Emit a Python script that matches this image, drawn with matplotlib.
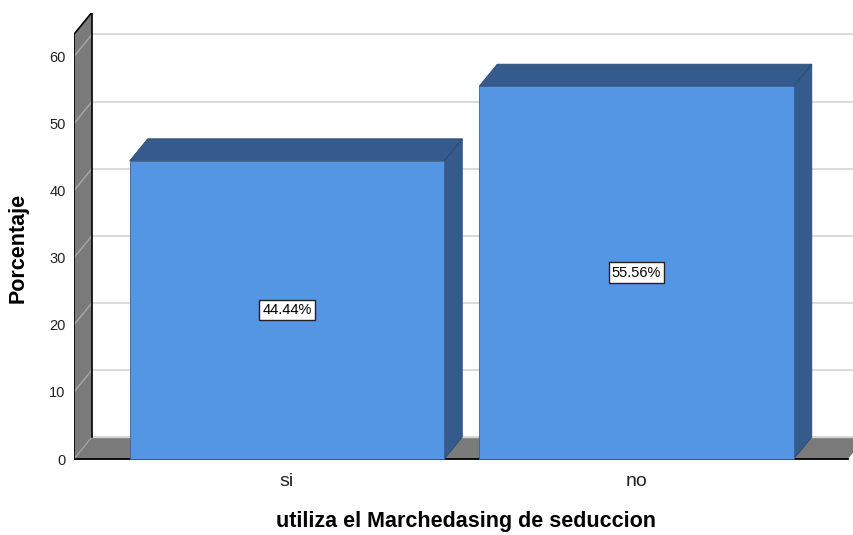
import numpy as np
from matplotlib import pyplot as plt
from matplotlib.patches import Polygon

# survey answers and percentages
categories = ['si', 'no']
percent = [44.44, 55.56]
bar_labels = ['44.44%', '55.56%']
yticks = [0, 10, 20, 30, 40, 50, 60]

plt.rcParams['font.family'] = ['Liberation Sans', 'DejaVu Sans']

front = '#5596e4'
dark = '#345b8c'
wall = '#7a7a7a'
grid = '#d4d4d4'

# pseudo 3d depth offsets (data units)
dx = 0.0515
dy = 3.28
w = 0.9
xl = -0.6094     # front left edge of the wall
xr = 1.605       # right end of the floor
wall_top = 63.3

fig = plt.figure(figsize=(8.54, 5.35), dpi=100)
px_bottom = 459 + 0.5 * 6.71
ax = fig.add_axes([74 / 854, (535 - px_bottom) / 535, 780 / 854, (px_bottom - 13) / 535])
ax.set_xlim(xl, (854 - 287) / 349.5)
ax.set_ylim(-0.5, 66.47)
for s in ax.spines.values():
    s.set_visible(False)

x_right = 2.0

# back wall gridlines
for v in yticks:
    ax.plot([xl + dx, x_right], [v + dy, v + dy], color=grid, lw=1.2, zorder=1)
ax.plot([xl + dx, x_right], [wall_top + dy, wall_top + dy], color='#333333', lw=1.2, zorder=1)

# floor
floor = Polygon([(xl, 0), (xr, 0), (xr + dx, dy), (xl + dx, dy)], closed=True,
                facecolor=wall, edgecolor='none', zorder=2)
ax.add_patch(floor)
ax.plot([xl, xr], [0, 0], color='black', lw=1.3, zorder=2.5)
ax.plot([xl + dx, xr + dx], [dy, dy], color=grid, lw=1.0, zorder=2.5)

# left wall
lwall = Polygon([(xl, 0), (xl + dx, dy), (xl + dx, wall_top + dy), (xl, wall_top)], closed=True,
                facecolor=wall, edgecolor='none', zorder=3)
ax.add_patch(lwall)
for v in yticks[1:]:
    ax.plot([xl, xl + dx], [v, v + dy], color='#a8a8a8', lw=1.0, zorder=3.2)
ax.plot([xl, xl, xl + dx, xl + dx, xl + dx], [0, wall_top, wall_top + dy, wall_top + dy, dy],
        color='black', lw=1.2, zorder=3.5)
ax.plot([xl, xl + dx], [0, dy], color='#a8a8a8', lw=0.8, zorder=3.2)

x = np.arange(len(categories))
bars = ax.bar(x, percent, width=w, color=front, edgecolor='#3a5f8f', lw=0.6, zorder=5)

for xi, h in zip(x, percent):
    r = xi + w / 2
    l = xi - w / 2
    side = Polygon([(r, 0), (r + dx, dy), (r + dx, h + dy), (r, h)], closed=True,
                   facecolor=dark, edgecolor='#2b4a72', lw=0.6, zorder=4)
    top = Polygon([(l, h), (r, h), (r + dx, h + dy), (l + dx, h + dy)], closed=True,
                  facecolor=dark, edgecolor='#2b4a72', lw=0.6, zorder=4)
    ax.add_patch(side)
    ax.add_patch(top)

for xi, h, lab in zip(x, percent, bar_labels):
    ax.text(xi, h / 2, lab, ha='center', va='center', fontsize=10.5, zorder=6,
            bbox=dict(boxstyle='square,pad=0.22', facecolor='white', edgecolor='#222222', lw=1))

ax.set_xticks(x)
ax.set_xticklabels(categories, fontsize=14, color='#222222')
ax.set_yticks(yticks)
ax.set_yticklabels([str(t) for t in yticks], fontsize=10.5, color='#222222')
ax.tick_params(axis='x', length=0, pad=8)
ax.tick_params(axis='y', length=0, pad=6)

fig.text(18 / 854, 1 - 248 / 535, 'Porcentaje', rotation=90, ha='center', va='center',
         fontsize=15.5, fontweight='bold')
fig.text(466 / 854, 1 - 522 / 535, 'utiliza el Marchedasing de seduccion', ha='center',
         va='center', fontsize=15.5, fontweight='bold')

fig.savefig('out.png', dpi=100)
